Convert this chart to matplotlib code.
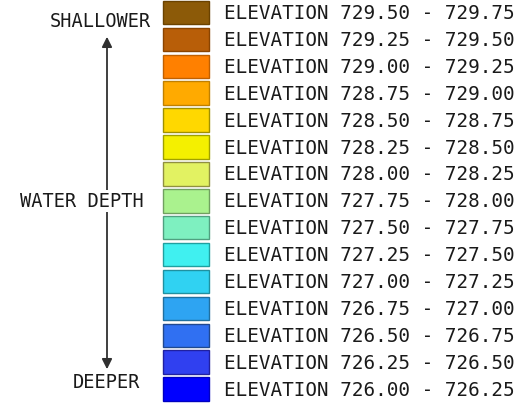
import matplotlib.pyplot as plt

lows = [729.50, 729.25, 729.00, 728.75, 728.50, 728.25, 728.00, 727.75,
        727.50, 727.25, 727.00, 726.75, 726.50, 726.25, 726.00]
step = 0.25
colors = ['#8c5a08', '#b85e08', '#ff8000', '#ffaa00', '#ffd800', '#f4f000',
          '#e2f262', '#aaf28e', '#7ef0c0', '#40f0f0', '#30d2f2', '#2ea4f2',
          '#3070f2', '#3040f0', '#0000ff']
edges = ['#6a4200', '#8a4400', '#c06000', '#c08000', '#a09000', '#a0a000',
         '#909040', '#70a060', '#50a080', '#20a0a0', '#2090a0', '#2070a0',
         '#204890', '#2020a0', '#0000c0']

fig = plt.figure(figsize=(5.24, 4.12), dpi=100)
ax = fig.add_axes([0, 0, 1, 1])
ax.set_xlim(0, 524)
ax.set_ylim(412, 0)
ax.axis('off')

row_h = 26.9
y0 = 12.5
ys = [y0 + row_h * i for i in range(len(lows))]

ax.barh(ys, 46, left=163, height=23.5, color=colors, edgecolor=edges, linewidth=1)

font = dict(fontsize=13.4, family='DejaVu Sans Mono', color='#1a1a1a')

for y, lo in zip(ys, lows):
    ax.text(224, y + 1, f"ELEVATION {lo:.2f} - {lo + step:.2f}",
            va='center', ha='left', **dict(font, fontsize=13.9))

# depth arrow
ax.annotate('', xy=(107, 34), xytext=(107, 200),
            arrowprops=dict(arrowstyle='-|>', color='#303030', lw=1.3, mutation_scale=15))
ax.annotate('', xy=(107, 372), xytext=(107, 200),
            arrowprops=dict(arrowstyle='-|>', color='#303030', lw=1.3, mutation_scale=15))

ax.text(100, 21, 'SHALLOWER', ha='center', va='center', **font)
ax.text(82, 201, 'WATER DEPTH', ha='center', va='center',
        bbox=dict(facecolor='white', edgecolor='none', pad=1), **font)
ax.text(107, 383, 'DEEPER', ha='center', va='center', **font)

fig.savefig('out.png', dpi=100)
